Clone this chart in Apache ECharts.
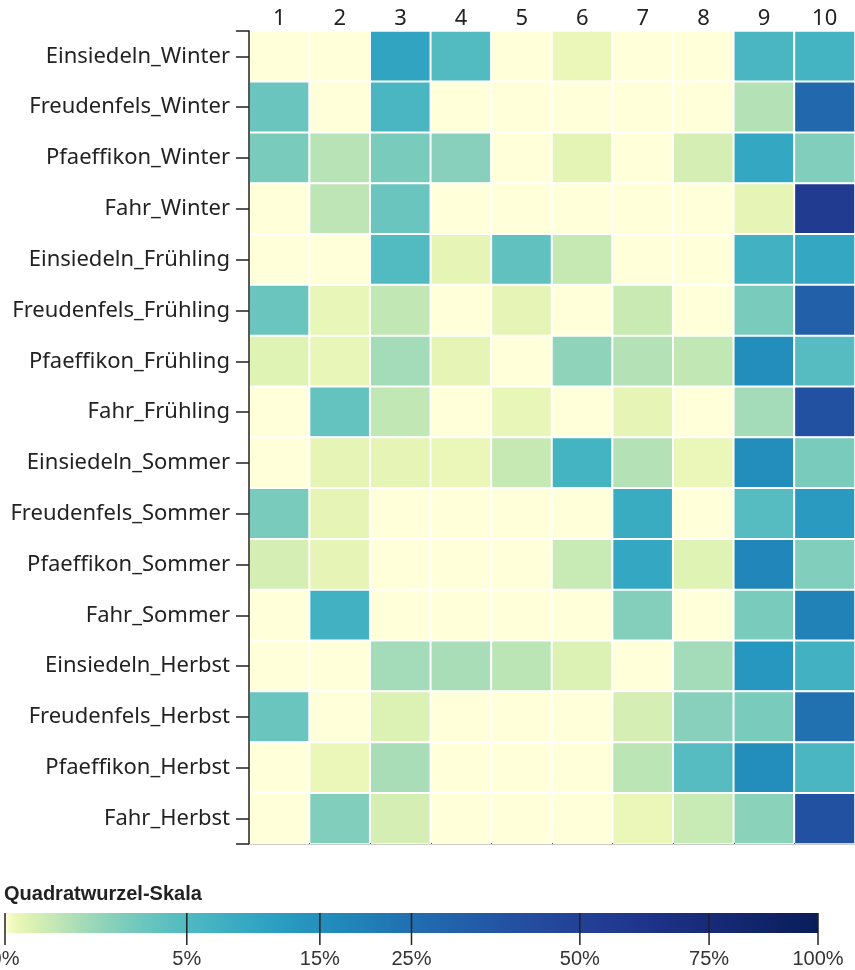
<!DOCTYPE html>
<html>
<head>
<meta charset="utf-8">
<title>Heatmap</title>
<script src="https://cdn.jsdelivr.net/npm/echarts@6/dist/echarts.min.js"></script>
<style>
  html, body { margin: 0; padding: 0; background: #fff; }
  #chart { width: 855px; height: 970px; }
</style>
</head>
<body>
<div id="chart"></div>
<script>
// row labels (top to bottom) and column labels
var sites = ['Einsiedeln', 'Freudenfels', 'Pfaeffikon', 'Fahr'];
var seasons = ['Winter', 'Frühling', 'Sommer', 'Herbst'];
var columns = ['1', '2', '3', '4', '5', '6', '7', '8', '9', '10'];

// shares in percent, one row per site, columns 1..10
var winter = [
    [0, 0, 9.8, 4.9, 0, 0.02, 0, 0, 5.8, 6.3],
    [3.1, 0, 5.8, 0, 0, 0, 0, 0, 0.61, 28],
    [2.3, 0.53, 2.3, 1.7, 0, 0.05, 0, 0.16, 9.2, 2.0],
    [0, 0.46, 3.1, 0, 0, 0, 0, 0, 0.04, 55]
];
var fruehling = [
    [0, 0, 4.9, 0.04, 3.7, 0.33, 0, 0, 6.8, 9.2],
    [3.1, 0.03, 0.39, 0, 0.04, 0, 0.28, 0, 2.3, 31.6],
    [0.08, 0.03, 0.92, 0.04, 0, 1.5, 0.61, 0.39, 15.7, 4.5],
    [0, 3.4, 0.39, 0, 0.03, 0, 0.04, 0, 0.92, 39]
];
var sommer = [
    [0, 0.04, 0.04, 0.02, 0.33, 6.3, 0.61, 0.02, 15.7, 2.3],
    [2.3, 0.04, 0, 0, 0, 0, 7.9, 0, 4.5, 12.1],
    [0.16, 0.04, 0, 0, 0, 0.3, 9.2, 0.08, 17.9, 2.0],
    [0, 6.8, 0, 0, 0, 0, 1.9, 0, 2.3, 19]
];
var herbst = [
    [0, 0, 0.92, 0.81, 0.49, 0.1, 0, 0.92, 13, 6.8],
    [3.1, 0, 0.1, 0, 0, 0, 0.16, 1.7, 2.3, 25],
    [0, 0.02, 0.81, 0, 0, 0, 0.49, 4.5, 15.7, 5.8],
    [0, 2.0, 0.16, 0, 0, 0, 0.02, 0.3, 1.6, 39]
];

// legend ticks in percent
var legendTicks = [0, 5, 15, 25, 50, 75, 100];

// YlGnBu, interpolated with a basis spline like d3 does
var ylgnbu = ['#ffffd9', '#edf8b1', '#c7e9b4', '#7fcdbb', '#41b6c4', '#1d91c0', '#225ea8', '#253494', '#081d58'];

function hexToRgb(h) {
    return [parseInt(h.substr(1, 2), 16), parseInt(h.substr(3, 2), 16), parseInt(h.substr(5, 2), 16)];
}
var ylgnbuRgb = ylgnbu.map(hexToRgb);

function basis(t1, v0, v1, v2, v3) {
    var t2 = t1 * t1, t3 = t2 * t1;
    return ((1 - 3 * t1 + 3 * t2 - t3) * v0 +
        (4 - 6 * t2 + 3 * t3) * v1 +
        (1 + 3 * t1 + 3 * t2 - 3 * t3) * v2 +
        t3 * v3) / 6;
}

function ramp(t) {
    var n = ylgnbuRgb.length - 1;
    var i;
    if (t <= 0) { t = 0; i = 0; }
    else if (t >= 1) { t = 1; i = n - 1; }
    else { i = Math.floor(t * n); }
    var out = [];
    for (var k = 0; k < 3; k++) {
        var v1 = ylgnbuRgb[i][k], v2 = ylgnbuRgb[i + 1][k];
        var v0 = i > 0 ? ylgnbuRgb[i - 1][k] : 2 * v1 - v2;
        var v3 = i < n - 1 ? ylgnbuRgb[i + 2][k] : 2 * v2 - v1;
        out.push(Math.max(0, Math.min(255, Math.round(basis((t - i / n) * n, v0, v1, v2, v3)))));
    }
    return 'rgb(' + out.join(',') + ')';
}

// legend position is sqrt(share); colour is the ramp at sqrt(position)
function legendPos(pct) { return Math.sqrt(pct / 100); }
function colourParam(pct) { return Math.sqrt(legendPos(pct)); }

var rampColours = [];
for (var s = 0; s <= 80; s++) rampColours.push(ramp(s / 80));

var gradientStops = [];
for (var g = 0; g <= 100; g++) gradientStops.push({ offset: g / 100, color: ramp(Math.sqrt(g / 100)) });

var rowLabels = [];
var cells = [];
var blocks = [winter, fruehling, sommer, herbst];
seasons.forEach(function (season, si) {
    sites.forEach(function (site, ri) {
        var r = rowLabels.length;
        rowLabels.push(site + '_' + season);
        blocks[si][ri].forEach(function (v, c) {
            cells.push([c, r, v, colourParam(v)]);
        });
    });
});

var chart = echarts.init(document.getElementById('chart'));
chart.setOption({
    animation: false,
    title: {
        text: 'Quadratwurzel-Skala',
        left: 4,
        top: 884,
        padding: 0,
        textStyle: {
            fontFamily: 'Liberation Sans, Arial, sans-serif',
            fontSize: 20,
            fontWeight: 'bold',
            color: '#222'
        }
    },
    grid: [
        { left: 249, top: 31, width: 610, height: 813 },
        { left: 5, top: 913, width: 813, height: 20 }
    ],
    xAxis: [{
        type: 'category',
        data: columns,
        position: 'top',
        gridIndex: 0,
        z: 10,
        axisLine: { show: true, lineStyle: { color: '#ccc', width: 1 } },
        axisTick: { show: true, length: 1, lineStyle: { color: '#555' } },
        axisLabel: {
            fontFamily: 'Noto Sans, sans-serif',
            fontSize: 22,
            color: '#222',
            margin: 1
        },
        splitLine: { show: false }
    }, {
        type: 'value',
        gridIndex: 1,
        min: 0,
        max: 1,
        show: false
    }],
    yAxis: [{
        type: 'category',
        data: rowLabels,
        inverse: true,
        gridIndex: 0,
        z: 10,
        axisLine: { show: true, onZero: false, lineStyle: { color: '#222', width: 1.5 } },
        axisTick: { show: true, alignWithLabel: true, length: 13, lineStyle: { color: '#222', width: 1.5 } },
        axisLabel: {
            fontFamily: 'Noto Sans, sans-serif',
            fontSize: 22,
            color: '#222',
            margin: 19
        },
        splitLine: { show: false }
    }, {
        // only the outer ticks at both ends
        type: 'value',
        gridIndex: 0,
        min: 0,
        max: 1,
        interval: 1,
        position: 'left',
        z: 10,
        axisLine: { show: false },
        axisTick: { show: true, length: 13, lineStyle: { color: '#222', width: 1.5 } },
        axisLabel: { show: false },
        splitLine: { show: false }
    }, {
        type: 'value',
        gridIndex: 1,
        min: 0,
        max: 1,
        show: false
    }],
    visualMap: {
        show: false,
        type: 'continuous',
        seriesIndex: 0,
        dimension: 3,
        min: 0,
        max: 1,
        inRange: { color: rampColours }
    },
    series: [{
        type: 'heatmap',
        xAxisIndex: 0,
        yAxisIndex: 0,
        data: cells,
        itemStyle: { borderColor: '#fff', borderWidth: 2 },
        emphasis: { disabled: true }
    }, {
        // gradient bar of the legend
        type: 'custom',
        xAxisIndex: 1,
        yAxisIndex: 2,
        clip: false,
        silent: true,
        data: [[0, 1]],
        renderItem: function (params, api) {
            var p0 = api.coord([0, 1]);
            var p1 = api.coord([1, 0]);
            return {
                type: 'rect',
                shape: { x: p0[0], y: p0[1], width: p1[0] - p0[0], height: p1[1] - p0[1] },
                style: { fill: new echarts.graphic.LinearGradient(0, 0, 1, 0, gradientStops) }
            };
        }
    }, {
        // legend ticks and labels
        type: 'custom',
        xAxisIndex: 1,
        yAxisIndex: 2,
        clip: false,
        silent: true,
        data: legendTicks,
        renderItem: function (params, api) {
            var pct = api.value(0);
            var top = api.coord([legendPos(pct), 1]);
            var bottom = api.coord([legendPos(pct), 0]);
            return {
                type: 'group',
                children: [{
                    type: 'line',
                    shape: { x1: top[0], y1: top[1], x2: top[0], y2: bottom[1] + 12 },
                    style: { stroke: '#222', lineWidth: 1.5 }
                }, {
                    type: 'text',
                    x: top[0],
                    y: bottom[1] + 26,
                    style: {
                        text: pct + '%',
                        fontFamily: 'Liberation Sans, Arial, sans-serif',
                        fontSize: 20,
                        fill: '#333',
                        align: 'center',
                        verticalAlign: 'middle'
                    }
                }]
            };
        }
    }]
});
</script>
</body>
</html>
